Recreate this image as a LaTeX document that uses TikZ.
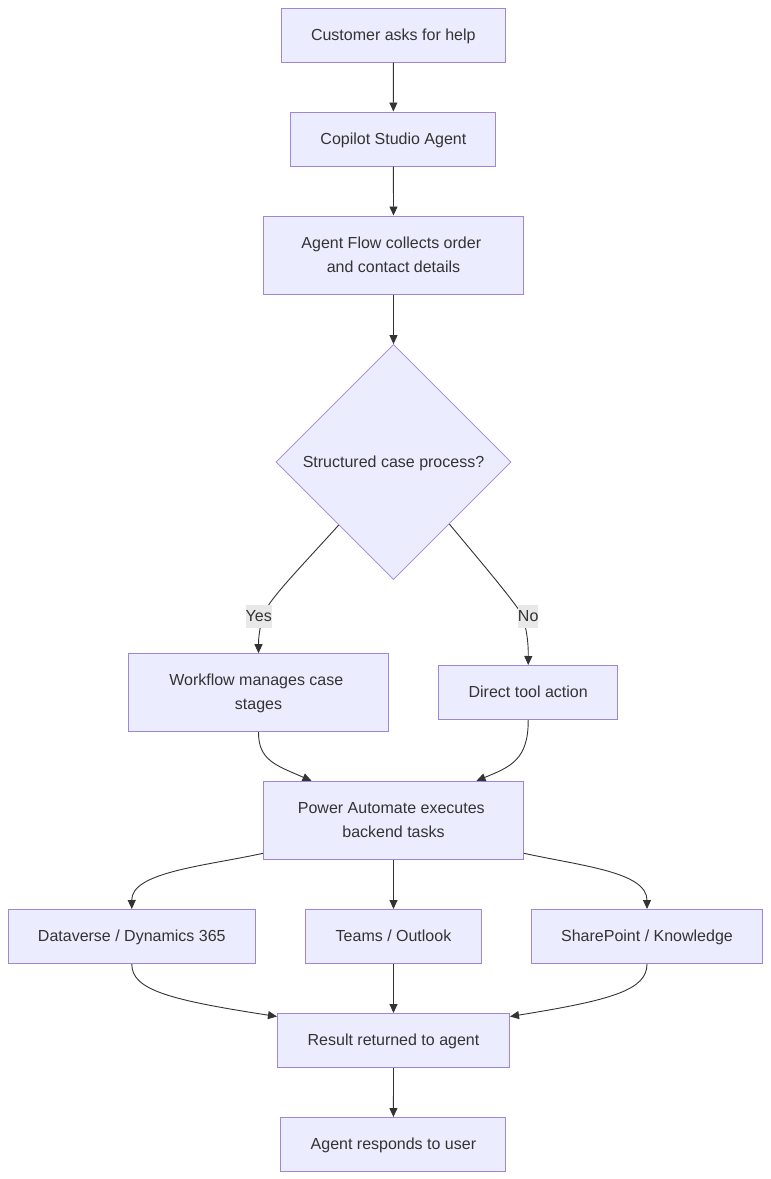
\documentclass[tikz,border=0pt]{standalone}
\usepackage{fontspec}
\setmainfont{Liberation Sans}
\usetikzlibrary{arrows.meta,shapes.geometric}
\definecolor{nodefill}{HTML}{ECECFF}
\definecolor{nodeline}{HTML}{9F85DC}
\definecolor{ink}{HTML}{333333}
\definecolor{labelbg}{HTML}{E8E8E8}
\tikzset{
  flowbox/.style={rectangle,draw=nodeline,fill=nodefill,line width=1pt,text=ink,inner sep=0pt,align=center,
    font=\fontsize{16}{24}\selectfont},
  oneline/.style={text height=13pt,text depth=3pt},
  decision/.style={diamond,draw=nodeline,fill=nodefill,line width=0.8pt,text=ink,inner sep=0pt,align=center,aspect=1,
    minimum width=235pt,minimum height=235pt,font=\fontsize{16}{24}\selectfont},
  link/.style={draw=ink,line width=0.9pt,-{Triangle[length=9pt,width=8pt]}},
  edgelabel/.style={fill=labelbg,text=ink,inner sep=0pt,font=\fontsize{16}{24}\selectfont},
}
\newcommand{\trail}{\kern4.4pt\relax}
\begin{document}
\begin{tikzpicture}[x=1pt,y=-1pt]
\useasboundingbox (0,0) rectangle (771,1179);
\fill[white] (0,0) rectangle (771,1179);
\node[flowbox,oneline,minimum width=224.5pt,minimum height=54pt] (A) at (393.3,35) {Customer asks for help};
\node[flowbox,oneline,minimum width=205pt,minimum height=54pt] (B) at (393.4,139) {Copilot Studio Agent};
\node[flowbox,minimum width=260pt,minimum height=78pt] (C) at (393.5,255) {Agent Flow collects order\trail\\and contact details};
\node[decision,oneline] (D) at (393.5,462) {Structured case process?};
\node[flowbox,minimum width=260pt,minimum height=78pt] (E) at (258.5,692.7) {Workflow manages case\trail\\\raisebox{0pt}[\height][1.7pt]{stages}};
\node[flowbox,oneline,minimum width=179.5pt,minimum height=54pt] (F) at (528.2,692.5) {Direct tool action};
\node[flowbox,minimum width=260pt,minimum height=78pt] (G) at (393.5,820.3) {Power Automate executes\trail\\backend tasks};
\node[flowbox,oneline,minimum width=247pt,minimum height=54pt] (H) at (131.8,936.5) {Dataverse / Dynamics 365};
\node[flowbox,oneline,minimum width=175.5pt,minimum height=54pt] (I) at (393.5,936.5) {Teams / Outlook};
\node[flowbox,oneline,minimum width=231.5pt,minimum height=54pt] (J) at (647,936.5) {SharePoint / Knowledge};
\node[flowbox,oneline,minimum width=232pt,minimum height=54pt] (K) at (393.5,1040.5) {Result returned to agent};
\node[flowbox,oneline,minimum width=225pt,minimum height=54pt] (L) at (393.4,1144.5) {Agent responds to user};

\draw[link] (A) -- (B);
\draw[link] (B) -- (C);
\draw[link] (C) -- (D.north);
\draw[link] (D.229.1) .. controls (310,557) and (278,590) .. (268,606) .. controls (262,616) and (258.5,632) .. (E.north);
\draw[link] (D.-48.6) .. controls (470,549) and (505,590) .. (519,610) .. controls (524,618) and (528.5,635) .. (F.north);
\draw[link] (E.south) .. controls (258.5,760) and (275,765) .. ([xshift=48.5pt]G.north west);
\draw[link] (F.south) .. controls (528.5,760) and (510,767) .. ([xshift=-47.5pt]G.north east);
\draw[link] ([yshift=6.5pt]G.south west) .. controls (205,866) and (131.5,872) .. (H.north);
\draw[link] (G) -- (I);
\draw[link] ([yshift=6.5pt]G.south east) .. controls (582,866) and (647,872) .. (J.north);
\draw[link] (H.south) .. controls (131.5,990) and (170,1000) .. ([yshift=-3.5pt]K.north west);
\draw[link] (I) -- (K);
\draw[link] (J.south) .. controls (647,990) and (612,1000) .. ([yshift=-3.5pt]K.north east);
\draw[link] (K) -- (L);

\node[edgelabel,minimum width=26pt,minimum height=23pt] (yes) at (258.7,616.3) {Yes};
\node[edgelabel,minimum width=20.5pt,minimum height=23pt] (no) at (528.2,616.3) {No};
\end{tikzpicture}
\end{document}
